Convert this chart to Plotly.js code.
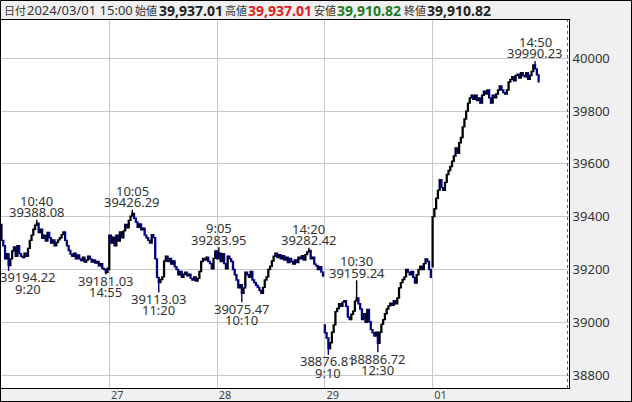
<!DOCTYPE html>
<html><head><meta charset="utf-8">
<script src="https://cdn.plot.ly/plotly-3.0.1.min.js"></script>
<style>html,body{margin:0;padding:0;background:#f0f0f0;}#chart{width:632px;height:402px;}</style>
</head><body><div id="chart"></div>
<script>
// ---- data (5-minute bars, 61 per session day) ----
const dayLabels = ['26', '27', '28', '29', '01'];
const tickLabels = ['27', '28', '29', '01'];
const yTicks = [38800, 39000, 39200, 39400, 39600, 39800, 40000];
const dayOpens = [39370, 39200, 39270, 38990, 39210];

const close26 = [39310,39290,39240,39260,39215,39240,39270,39285,39250,39290,39260,39250,39245,39262,39250,39280,39310,39330,39352,39368,39375,39340,39352,39318,39330,39308,39340,39320,39300,39312,39290,39302,39312,39320,39332,39342,39310,39290,39272,39258,39250,39262,39240,39255,39240,39234,39246,39228,39236,39250,39240,39228,39236,39224,39230,39214,39222,39204,39200,39188,39205];
const close27 = [39330,39300,39322,39290,39330,39308,39342,39320,39346,39370,39358,39386,39402,39412,39394,39380,39360,39372,39350,39356,39330,39320,39310,39300,39332,39320,39240,39170,39150,39162,39172,39232,39250,39230,39242,39220,39232,39210,39200,39180,39192,39170,39182,39190,39176,39182,39166,39160,39172,39156,39166,39192,39230,39242,39236,39246,39230,39222,39202,39242,39270];
const close28 = [39240,39262,39230,39260,39222,39202,39250,39240,39230,39200,39180,39160,39130,39142,39110,39130,39190,39180,39170,39192,39160,39150,39140,39132,39120,39110,39132,39160,39172,39200,39212,39232,39250,39262,39245,39256,39240,39252,39236,39246,39226,39242,39230,39220,39236,39226,39246,39240,39252,39236,39256,39266,39272,39240,39246,39220,39214,39200,39210,39190,39175];
const close29 = [38960,38940,38900,38922,38962,38990,39040,39052,39070,39060,39076,39082,39060,39020,39010,39030,39042,39080,39092,39070,39050,39010,39032,39000,39048,39002,38972,38960,38948,38962,38920,38962,38992,39010,39032,39050,39062,39072,39064,39082,39070,39092,39130,39150,39162,39172,39200,39190,39180,39192,39170,39148,39180,39200,39212,39200,39222,39240,39230,39200,39170];
const close01 = [39400,39430,39470,39500,39540,39510,39500,39530,39560,39575,39590,39610,39630,39660,39640,39680,39700,39740,39770,39800,39830,39850,39860,39845,39860,39840,39850,39830,39860,39875,39865,39880,39850,39830,39860,39850,39865,39880,39895,39880,39870,39865,39880,39910,39920,39930,39915,39935,39940,39925,39945,39935,39930,39945,39920,39935,39950,39975,39960,39937.01,39910.82];

// labelled extremes
const markDays  = [0, 0, 0, 1, 1, 2, 2, 2, 3, 3, 3, 4];
const markTimes = ['10:40','9:20','14:55','10:05','11:20','9:05','10:10','14:20','9:10','10:30','12:30','14:50'];
const markVals  = [39388.08,39194.22,39181.03,39426.29,39113.03,39283.95,39075.47,39282.42,38876.81,39159.24,38886.72,39990.23];
const markKinds = ['high','low','low','high','low','high','low','high','low','high','low','high'];

const headerDate = '2024/03/01 15:00';

// ---- build OHLC ----
const closes = [close26, close27, close28, close29, close01];
const BARS = 61;
const X = [], O = [], H = [], L = [], C = [];
closes.forEach((arr, d) => {
  arr.forEach((c, i) => {
    const o = i === 0 ? dayOpens[d] : arr[i - 1];
    X.push(d * BARS + i); O.push(o); C.push(c);
    H.push(Math.max(o, c)); L.push(Math.min(o, c));
  });
});
function timeIdx(t) {
  const [h, m] = t.split(':').map(Number);
  const mins = h * 60 + m;
  return mins < 720 ? (mins - 540) / 5 : 30 + (mins - 750) / 5;
}
const markIdx = markTimes.map((t, k) => markDays[k] * BARS + timeIdx(t));
markIdx.forEach((ix, k) => {
  if (markKinds[k] === 'high') H[ix] = Math.max(H[ix], markVals[k]);
  else L[ix] = Math.min(L[ix], markVals[k]);
});

// ---- layout geometry ----
const W = 632, Hh = 402;
const mL = 0, mR = 63, mT = 20, mB = 14;
const PW = W - mL - mR, PH = Hh - mT - mB;
const xr = [-0.86, 321.2];
const yr = [38750.8, 40145.1];
const px2x = px => (px - mL) / PW;
const py2y = py => (Hh - mB - py) / PH;
const idx2px = ix => mL + (ix - xr[0]) / (xr[1] - xr[0]) * PW;

const font = 'Noto Sans, Arial, sans-serif';
const txtCol = '#333333';
const annotations = [];
markIdx.forEach((ix, k) => {
  const p = idx2px(ix);
  const half = 28;
  let xs = 0;
  if (p - half < 0) xs = half - p;
  if (p + half > PW) xs = PW - half - p;
  const hi = markKinds[k] === 'high';
  const valTxt = markVals[k].toFixed(2);
  annotations.push({x: ix, y: markVals[k], xref: 'x', yref: 'y', text: valTxt, showarrow: false,
    xanchor: 'center', yanchor: 'middle', xshift: xs, yshift: hi ? 7.5 : -6.5,
    font: {family: font, size: 13, color: txtCol}});
  annotations.push({x: ix, y: markVals[k], xref: 'x', yref: 'y', text: markTimes[k], showarrow: false,
    xanchor: 'center', yanchor: 'middle', xshift: xs, yshift: hi ? 19 : -18,
    font: {family: font, size: 13, color: txtCol}});
});

// header
const n = X.length - 1;
const fmt = v => v.toLocaleString('en-US', {minimumFractionDigits: 2, maximumFractionDigits: 2});
const cjk = 'Noto Sans CJK JP, sans-serif';
const header = [
  {t: '日付', px: 2, f: cjk, s: 11, c: txtCol},
  {t: headerDate, px: 25, f: font, s: 13, c: txtCol},
  {t: '始値', px: 133, f: cjk, s: 11, c: txtCol},
  {t: '<b>' + fmt(O[n]) + '</b>', px: 157, f: font, s: 14, c: '#222222'},
  {t: '高値', px: 223, f: cjk, s: 11, c: txtCol},
  {t: '<b>' + fmt(H[n]) + '</b>', px: 246, f: font, s: 14, c: '#e02020'},
  {t: '安値', px: 312, f: cjk, s: 11, c: txtCol},
  {t: '<b>' + fmt(L[n]) + '</b>', px: 335, f: font, s: 14, c: '#1e7a1e'},
  {t: '終値', px: 402, f: cjk, s: 11, c: txtCol},
  {t: '<b>' + fmt(C[n]) + '</b>', px: 425, f: font, s: 14, c: '#222222'}
];
header.forEach(h => annotations.push({x: px2x(h.px), y: py2y(10.5), xref: 'paper', yref: 'paper',
  text: h.t, showarrow: false, xanchor: 'left', yanchor: 'middle',
  font: {family: h.f, size: h.s, color: h.c}}));

const shapes = [
  {type: 'line', xref: 'paper', yref: 'paper', x0: px2x(567.5), x1: px2x(567.5), y0: 0, y1: 1,
    line: {color: '#666', width: 1, dash: 'dot'}},
  {type: 'rect', xref: 'paper', yref: 'paper', x0: px2x(0.5), x1: px2x(631.5), y0: py2y(401.5), y1: py2y(0.5),
    line: {color: '#000', width: 1}}
];

const trace = {
  type: 'candlestick', x: X, open: O, high: H, low: L, close: C,
  increasing: {line: {color: '#000000', width: 1.4}, fillcolor: '#000000'},
  decreasing: {line: {color: '#000080', width: 1.4}, fillcolor: '#000080'},
  whiskerwidth: 0, hoverinfo: 'skip', showlegend: false
};

const layout = {
  width: W, height: Hh, margin: {l: mL, r: mR, t: mT, b: mB, pad: 0},
  paper_bgcolor: '#f0f0f0', plot_bgcolor: '#ffffff', showlegend: false,
  font: {family: font, color: txtCol},
  xaxis: {range: xr, tickvals: [61, 122, 183, 244], ticktext: tickLabels, showgrid: true,
    gridcolor: '#c8c8c8', gridwidth: 1, zeroline: false, showline: true, mirror: true,
    linecolor: '#000', linewidth: 1, ticks: '', tickfont: {family: font, size: 11, color: '#444'},
    ticklabelshift: 8, ticklabelstandoff: -3, rangeslider: {visible: false}, fixedrange: true},
  yaxis: {range: yr, side: 'right', tickvals: yTicks, ticktext: yTicks.map(String), showgrid: true,
    gridcolor: '#c8c8c8', gridwidth: 1, zeroline: false, showline: true, mirror: true,
    linecolor: '#000', linewidth: 1, ticks: '', tickfont: {family: font, size: 13, color: '#333'},
    fixedrange: true},
  annotations: annotations, shapes: shapes
};
Plotly.newPlot('chart', [trace], layout, {staticPlot: true, displayModeBar: false});
</script></body></html>
